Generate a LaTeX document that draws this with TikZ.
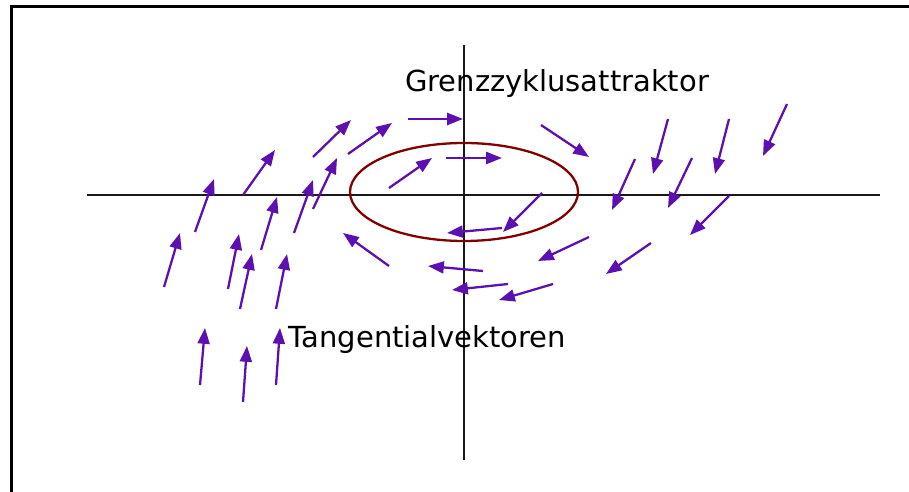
\documentclass[tikz,border=0pt]{standalone}
\usepackage{fontspec}
\setmainfont{DejaVu Sans}
\usetikzlibrary{arrows.meta}
\definecolor{vecviolet}{RGB}{92,16,176}
\definecolor{cycred}{RGB}{128,0,0}
\tikzset{
    vec/.style={vecviolet, line width=1.3pt, -{Triangle[length=9pt, width=6.8pt]}},
    axis/.style={black!90, line width=1.2pt},
    limcycle/.style={cycred, line width=1.3pt},
    lbl/.style={font=\fontsize{16.5}{18}\selectfont, inner sep=0pt, anchor=base}
}

\begin{document}
\begin{tikzpicture}[x=0.02cm, y=-0.02cm]
\useasboundingbox (0,0) rectangle (909,492);
% frame
\draw[line width=1.7pt] (11.3,495) -- (11.3,6.2) -- (912,6.2);
% axes
\draw[axis] (87,195) -- (880,195);
\draw[axis] (464,45) -- (464,460);
% limit cycle
\draw[limcycle] (464,192) ellipse [x radius=114, y radius=49];
% tangent vectors
\foreach \xa/\ya/\xb/\yb in {
    164/287/180/233, 195/232/214/179, 243/195/275/150, 228/289/239/234,
    240/309/252/254, 261/250/277/197, 276/309/287/254, 294/233/313/180,
    313/209/337/158, 313/157/351/120, 348/154/392/123, 408/119/463/119,
    200/385/205/328, 243/402/247/346, 276/385/280/328,
    389/188/432/158, 446/158/502/158, 542/193/503/232, 502/228/447/233,
    541/125/589/157, 668/119/653/174, 729/119/715/174, 787/104/763/156,
    635/159/612/210, 692/158/668/208, 729/196/690/235, 651/243/606/274,
    589/237/538/261, 389/266/343/233, 483/271/428/266, 508/284/452/290,
    553/284/499/300}
    \draw[vec] (\xa,\ya) -- (\xb,\yb);
% labels
\node[lbl] (attr) at (557,92) {Grenzzyklusattraktor};
\node[lbl] (tang) at (427.5,348) {Tangentialvektoren};
\end{tikzpicture}
\end{document}
